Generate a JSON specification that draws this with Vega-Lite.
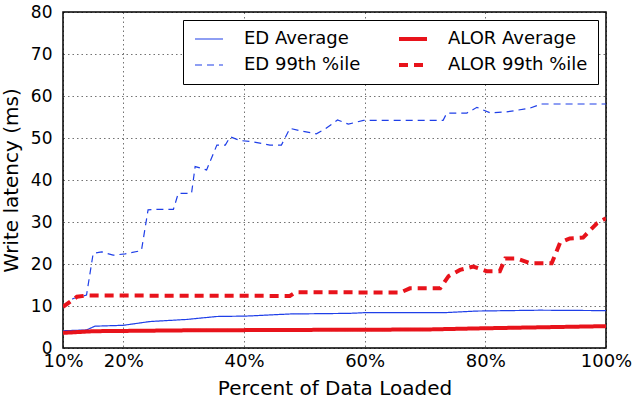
{
  "$schema": "https://vega.github.io/schema/vega-lite/v6.json",
  "width": 543,
  "height": 336,
  "autosize": {"type": "none"},
  "padding": {"left": 63, "top": 12, "right": 32, "bottom": 52},
  "background": "#ffffff",
  "config": {
    "font": "DejaVu Sans",
    "view": {"stroke": "#000000", "strokeWidth": 1.5},
    "axis": {
      "domain": false,
      "ticks": false,
      "grid": true,
      "gridColor": "#000000",
      "gridOpacity": 0.55,
      "gridDash": [1.5, 3],
      "gridWidth": 1,
      "labelColor": "#000000",
      "titleColor": "#000000",
      "labelFont": "DejaVu Sans",
      "titleFont": "DejaVu Sans",
      "titleFontWeight": "normal"
    }
  },
  "data": {
    "values": [
      {"s": "ED Average", "x": 10, "y": 4.1},
      {"s": "ED Average", "x": 13.9, "y": 4.3},
      {"s": "ED Average", "x": 15.3, "y": 5.2},
      {"s": "ED Average", "x": 20, "y": 5.4},
      {"s": "ED Average", "x": 24.4, "y": 6.3},
      {"s": "ED Average", "x": 30.5, "y": 6.8},
      {"s": "ED Average", "x": 35.5, "y": 7.5},
      {"s": "ED Average", "x": 40.4, "y": 7.6},
      {"s": "ED Average", "x": 47.6, "y": 8.1},
      {"s": "ED Average", "x": 57.5, "y": 8.25},
      {"s": "ED Average", "x": 59.8, "y": 8.4},
      {"s": "ED Average", "x": 73, "y": 8.4},
      {"s": "ED Average", "x": 78.6, "y": 8.8},
      {"s": "ED Average", "x": 89, "y": 9.0},
      {"s": "ED Average", "x": 100, "y": 8.9},

      {"s": "ED 99th %ile", "x": 10, "y": 9.8},
      {"s": "ED 99th %ile", "x": 11.7, "y": 11.8},
      {"s": "ED 99th %ile", "x": 13.9, "y": 12.6},
      {"s": "ED 99th %ile", "x": 15, "y": 22.5},
      {"s": "ED 99th %ile", "x": 16.4, "y": 22.9},
      {"s": "ED 99th %ile", "x": 18.3, "y": 22.1},
      {"s": "ED 99th %ile", "x": 20.3, "y": 22.4},
      {"s": "ED 99th %ile", "x": 23, "y": 23.2},
      {"s": "ED 99th %ile", "x": 24.1, "y": 32.9},
      {"s": "ED 99th %ile", "x": 25.5, "y": 33},
      {"s": "ED 99th %ile", "x": 28.3, "y": 33},
      {"s": "ED 99th %ile", "x": 29.1, "y": 36.8},
      {"s": "ED 99th %ile", "x": 31.3, "y": 36.8},
      {"s": "ED 99th %ile", "x": 31.9, "y": 43.2},
      {"s": "ED 99th %ile", "x": 33.8, "y": 42.4},
      {"s": "ED 99th %ile", "x": 35.5, "y": 48.3},
      {"s": "ED 99th %ile", "x": 36.9, "y": 48.3},
      {"s": "ED 99th %ile", "x": 37.7, "y": 50.3},
      {"s": "ED 99th %ile", "x": 39.3, "y": 49.4},
      {"s": "ED 99th %ile", "x": 41.5, "y": 49.1},
      {"s": "ED 99th %ile", "x": 44.3, "y": 48.3},
      {"s": "ED 99th %ile", "x": 46.2, "y": 48.3},
      {"s": "ED 99th %ile", "x": 47.6, "y": 52.3},
      {"s": "ED 99th %ile", "x": 49.3, "y": 51.7},
      {"s": "ED 99th %ile", "x": 52, "y": 51},
      {"s": "ED 99th %ile", "x": 53.5, "y": 52.2},
      {"s": "ED 99th %ile", "x": 55.5, "y": 54.3},
      {"s": "ED 99th %ile", "x": 57.3, "y": 53.3},
      {"s": "ED 99th %ile", "x": 59.8, "y": 54.2},
      {"s": "ED 99th %ile", "x": 73, "y": 54.2},
      {"s": "ED 99th %ile", "x": 73.6, "y": 55.9},
      {"s": "ED 99th %ile", "x": 76.9, "y": 55.9},
      {"s": "ED 99th %ile", "x": 78.6, "y": 57.3},
      {"s": "ED 99th %ile", "x": 80.8, "y": 56},
      {"s": "ED 99th %ile", "x": 83.5, "y": 56.2},
      {"s": "ED 99th %ile", "x": 87.4, "y": 57.1},
      {"s": "ED 99th %ile", "x": 89.3, "y": 58.1},
      {"s": "ED 99th %ile", "x": 100, "y": 58.1},

      {"s": "ALOR Average", "x": 10, "y": 3.6},
      {"s": "ALOR Average", "x": 15, "y": 4.0},
      {"s": "ALOR Average", "x": 30, "y": 4.2},
      {"s": "ALOR Average", "x": 48, "y": 4.3},
      {"s": "ALOR Average", "x": 70, "y": 4.4},
      {"s": "ALOR Average", "x": 80, "y": 4.7},
      {"s": "ALOR Average", "x": 100, "y": 5.2},

      {"s": "ALOR 99th %ile", "x": 10, "y": 9.8},
      {"s": "ALOR 99th %ile", "x": 12.3, "y": 12.2},
      {"s": "ALOR 99th %ile", "x": 13.9, "y": 12.5},
      {"s": "ALOR 99th %ile", "x": 47.6, "y": 12.4},
      {"s": "ALOR 99th %ile", "x": 48.6, "y": 13.3},
      {"s": "ALOR 99th %ile", "x": 65.9, "y": 13.2},
      {"s": "ALOR 99th %ile", "x": 67.5, "y": 14.2},
      {"s": "ALOR 99th %ile", "x": 72.5, "y": 14.2},
      {"s": "ALOR 99th %ile", "x": 73.9, "y": 17.1},
      {"s": "ALOR 99th %ile", "x": 75.8, "y": 18.6},
      {"s": "ALOR 99th %ile", "x": 78, "y": 19.4},
      {"s": "ALOR 99th %ile", "x": 80.2, "y": 18.3},
      {"s": "ALOR 99th %ile", "x": 82.4, "y": 18.3},
      {"s": "ALOR 99th %ile", "x": 83.3, "y": 21.3},
      {"s": "ALOR 99th %ile", "x": 85.2, "y": 21.3},
      {"s": "ALOR 99th %ile", "x": 87.4, "y": 20.2},
      {"s": "ALOR 99th %ile", "x": 91, "y": 20.2},
      {"s": "ALOR 99th %ile", "x": 92.4, "y": 25.1},
      {"s": "ALOR 99th %ile", "x": 94, "y": 26.1},
      {"s": "ALOR 99th %ile", "x": 96.2, "y": 26.3},
      {"s": "ALOR 99th %ile", "x": 98.5, "y": 29.7},
      {"s": "ALOR 99th %ile", "x": 100, "y": 30.9}
    ]
  },
  "mark": {"type": "line", "interpolate": "linear", "clip": true},
  "encoding": {
    "x": {
      "field": "x",
      "type": "quantitative",
      "scale": {"domain": [10, 100], "nice": false, "zero": false},
      "axis": {
        "values": [10, 20, 40, 60, 80, 100],
        "labelExpr": "datum.value + '%'",
        "labelFontSize": 18,
        "labelPadding": 4,
        "labelFlush": false,
        "labelOverlap": false,
        "title": "Percent of Data Loaded",
        "titleFontSize": 20,
        "titlePadding": 8
      }
    },
    "y": {
      "field": "y",
      "type": "quantitative",
      "scale": {"domain": [0, 80], "nice": false},
      "axis": {
        "values": [0, 10, 20, 30, 40, 50, 60, 70, 80],
        "labelFontSize": 17,
        "labelPadding": 11,
        "labelFlush": false,
        "labelOverlap": false,
        "title": "Write latency (ms)",
        "titleFontSize": 20,
        "titlePadding": 9
      }
    },
    "color": {
      "field": "s",
      "type": "nominal",
      "scale": {
        "domain": ["ED Average", "ED 99th %ile", "ALOR Average", "ALOR 99th %ile"],
        "range": ["#1f3fe8", "#1f3fe8", "#e8131b", "#e8131b"]
      },
      "legend": {
        "title": null,
        "orient": "none",
        "legendX": 120,
        "legendY": 8,
        "columns": 2,
        "symbolType": "M-2,0H2",
        "symbolSize": 196,
        "symbolOffset": 7,
        "labelFontSize": 18,
        "labelFont": "DejaVu Sans",
        "labelColor": "#000000",
        "labelOffset": 26,
        "labelLimit": 300,
        "columnPadding": 30,
        "rowPadding": 8,
        "padding": 10,
        "strokeColor": "#000000",
        "fillColor": "#ffffff",
        "cornerRadius": 0
      }
    },
    "strokeDash": {
      "field": "s",
      "type": "nominal",
      "scale": {
        "type": "ordinal",
        "domain": ["ED Average", "ED 99th %ile", "ALOR Average", "ALOR 99th %ile"],
        "range": [[1, 0], [7, 5], [1, 0], [9, 6]]
      }
    },
    "strokeWidth": {
      "field": "s",
      "type": "nominal",
      "scale": {
        "type": "ordinal",
        "domain": ["ED Average", "ED 99th %ile", "ALOR Average", "ALOR 99th %ile"],
        "range": [1.2, 1.2, 4, 4]
      }
    }
  }
}
